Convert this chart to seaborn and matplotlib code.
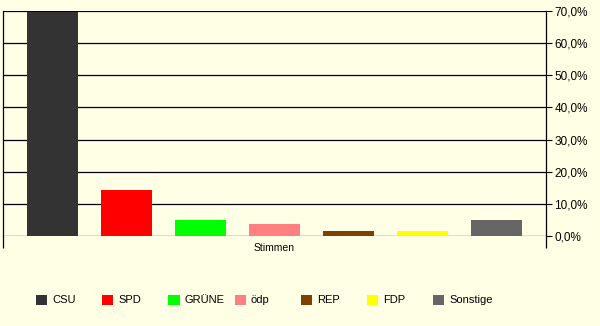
import matplotlib
matplotlib.use("Agg")
import matplotlib.pyplot as plt
import seaborn as sns
import pandas as pd
from matplotlib.ticker import FuncFormatter

# ---- data ----
categories = ["Stimmen"]
parties = ["CSU", "SPD", "GRÜNE", "ödp", "REP", "FDP", "Sonstige"]
shares = [69.6, 14.3, 5.0, 3.7, 1.6, 1.6, 5.0]
colors = ["#333333", "#FF0000", "#00FF00", "#FF8080", "#804000", "#FFFF00", "#666666"]
yticks = [0, 10, 20, 30, 40, 50, 60, 70]

df = pd.DataFrame({"Kategorie": categories * len(parties), "Partei": parties, "Anteil": shares})

bg = "#FFFFE5"
plt.rcParams["font.family"] = ["Liberation Sans", "DejaVu Sans"]
plt.rcParams["font.size"] = 8

fig = plt.figure(figsize=(6.0, 3.26), dpi=100, facecolor=bg)
ax = fig.add_axes([3 / 600, 1 - 236 / 326, 543 / 600, 225 / 326])
ax.set_facecolor(bg)

sns.barplot(data=df, x="Kategorie", y="Anteil", hue="Partei", hue_order=parties,
            palette=dict(zip(parties, colors)), width=0.954, gap=0.31,
            linewidth=0, saturation=1, ax=ax, legend=True, err_kws={"linewidth": 0})

ax.set_xlim(-0.5, 0.5)
ax.set_ylim(0, 70)
ax.set_yticks(yticks)
ax.yaxis.set_major_formatter(FuncFormatter(lambda v, p: f"{v:.1f}%".replace(".", ",")))
ax.yaxis.tick_right()
ax.tick_params(axis="y", which="major", direction="out", length=4, width=0.8, pad=2,
               colors="black", labelsize=8.5)
ax.grid(axis="y", color="black", linewidth=0.9)
ax.set_axisbelow(True)

ax.set_xticks([0])
ax.set_xticklabels(categories)
ax.tick_params(axis="x", which="major", length=0, pad=5, labelsize=7.5)
ax.set_xticks([-0.5, 0.5], minor=True)
ax.tick_params(axis="x", which="minor", direction="out", length=8.6, width=0.9, color="black")
ax.set_xlabel("")
ax.set_ylabel("")

for s in ["top", "bottom"]:
    ax.spines[s].set_visible(False)
for s in ["left", "right"]:
    ax.spines[s].set_color("black")
    ax.spines[s].set_linewidth(0.9)

handles, labels = ax.get_legend_handles_labels()
ax.get_legend().remove()
x0, step = 36 / 600, 66.2 / 600
for i, (h, l) in enumerate(zip(handles, labels)):
    fig.legend([h], [l], loc="center left", bbox_to_anchor=(x0 + i * step, 1 - 300 / 326),
               frameon=False, borderpad=0, borderaxespad=0, handlelength=1.0,
               handleheight=1.0, handletextpad=0.45, fontsize=8)

fig.savefig("out.png", dpi=100, facecolor=bg)
